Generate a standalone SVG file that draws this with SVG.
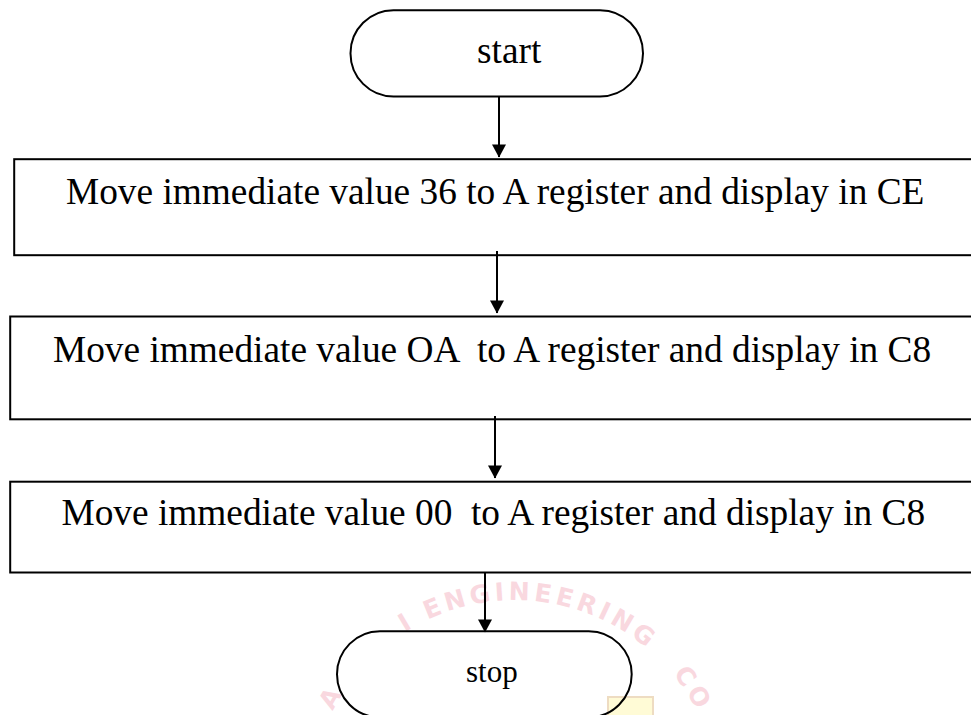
<svg xmlns="http://www.w3.org/2000/svg" width="971" height="715" viewBox="0 0 971 715">
  <style>
    .shape { fill: none; stroke: #000; stroke-width: 2; }
    .label { font-family: "Liberation Serif", "Times New Roman", serif; font-size: 37.33px; fill: #000; white-space: pre; }
    .edge { stroke: #000; stroke-width: 2; fill: none; marker-end: url(#arrow); }
    .mark { font-family: "DejaVu Sans", "Liberation Sans", sans-serif; font-weight: bold; font-size: 25px; fill: #f3a9b9; opacity: 0.45; letter-spacing: 4px; }
  </style>
  <defs>
    <marker id="arrow" markerWidth="15" markerHeight="14" refX="13.5" refY="7.5" orient="auto" markerUnits="userSpaceOnUse" viewBox="0 0 14 15">
      <path d="M0,0 L14,7.5 L0,15 Z" fill="#000"/>
    </marker>
    <path id="stampArc" d="M322.4,734.9 A205,205 0 0 1 707.6,734.9"/>
  </defs>

  <rect width="971" height="715" fill="#fff"/>

  <!-- faint stamp in the background -->
  <g id="stamp">
    <rect x="608" y="697" width="45" height="25" fill="#fffbd6" stroke="#eedcc2" stroke-width="2"/>
    <text class="mark"><textPath href="#stampArc" startOffset="26">A</textPath></text>
    <text class="mark"><textPath href="#stampArc" startOffset="134">I</textPath></text>
    <text class="mark"><textPath href="#stampArc" startOffset="160">ENGINEERING</textPath></text>
    <text class="mark"><textPath href="#stampArc" startOffset="430">CO</textPath></text>
  </g>

  <g id="connectors">
    <line class="edge" x1="499" y1="96.5" x2="499" y2="157"/>
    <line class="edge" x1="497" y1="251" x2="497" y2="313"/>
    <line class="edge" x1="495" y1="416" x2="495" y2="478"/>
    <line class="edge" x1="485" y1="572.5" x2="485" y2="632"/>
  </g>

  <g id="start">
    <rect class="shape" x="350.5" y="10.2" width="292.5" height="86.3" rx="43" ry="43"/>
    <text class="label" x="477" y="63.3">start</text>
  </g>

  <g id="step1">
    <rect class="shape" x="14.2" y="159.2" width="980" height="96"/>
    <text class="label" x="66" y="204.3">Move immediate value 36 to A register and display in CE</text>
  </g>

  <g id="step2">
    <rect class="shape" x="10.2" y="316.5" width="980" height="102.8"/>
    <text class="label" x="53" y="361.7">Move immediate value OA  to A register and display in C8</text>
  </g>

  <g id="step3">
    <rect class="shape" x="10.2" y="481.7" width="980" height="90.8"/>
    <text class="label" x="61.5" y="525">Move immediate value 00  to A register and display in C8</text>
  </g>

  <g id="stop">
    <rect class="shape" x="337" y="631.3" width="294.7" height="86" rx="43" ry="43"/>
    <text class="label" x="466" y="681.7" style="font-size:31px">stop</text>
  </g>
</svg>
